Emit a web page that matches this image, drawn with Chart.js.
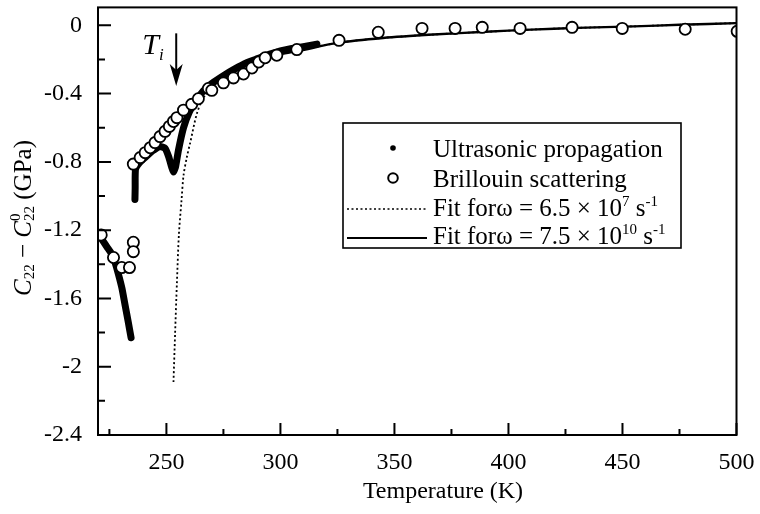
<!DOCTYPE html>
<html>
<head>
<meta charset="utf-8">
<script src="https://cdn.jsdelivr.net/npm/chart.js@4.4.0/dist/chart.umd.min.js"></script>
<style>
  html, body { margin: 0; padding: 0; background: #fff; }
  #chart { display: block; }
</style>
</head>
<body>
<canvas id="chart" width="760" height="514"></canvas>
<script>
// axis ticks
const xTicks = [250, 300, 350, 400, 450, 500];
const xMinor = [225, 275, 325, 375, 425, 475];
const yTicks = [0, -0.4, -0.8, -1.2, -1.6, -2, -2.4];
const yTickLabels = ['0', '-0.4', '-0.8', '-1.2', '-1.6', '-2', '-2.4'];
const yMinor = [-0.2, -0.6, -1.0, -1.4, -1.8, -2.2];

// ultrasonic propagation (dense points, drawn as a thick trace), null = gap
const usT = [220.5, 222.0, 224.0, 226.0, 227.5, 229.0, 230.5, 231.9, 233.3, 234.5,
  235.5,
  236.2, 236.3, 236.3, 236.5, 238.5, 241.0, 244.0, 247.2, 249.4, 251.0, 252.3, 253.1,
  254.0, 255.3, 257.5, 260.0, 262.6, 266.1, 270.0, 275.0, 280.0, 285.0, 290.0, 295.0,
  300.0, 305.0, 310.0, 316.0];
const usC = [-1.23, -1.26, -1.30, -1.34, -1.39, -1.46, -1.54, -1.64, -1.74, -1.83,
  null,
  -1.02, -0.95, -0.89, -0.84, -0.80, -0.77, -0.735, -0.71, -0.72, -0.77, -0.83, -0.86,
  -0.83, -0.73, -0.60, -0.51, -0.45, -0.385, -0.34, -0.295, -0.255, -0.22, -0.195, -0.17,
  -0.15, -0.135, -0.125, -0.11];

// Brillouin scattering
const brT = [221.4, 226.8, 230.4, 233.8, 235.5, 235.5,
  235.5, 238.5, 240.7, 242.9, 245.0, 247.2, 249.4, 251.3, 253.1, 254.6, 257.5, 261.1,
  264.0, 268.4, 269.9, 275.0, 279.4, 283.8, 287.5, 290.5, 293.3, 298.4, 307.2,
  325.7, 342.9, 362.1, 376.6, 388.5, 405.1, 427.9, 449.9, 477.5, 500.3];
const brC = [-1.228, -1.36, -1.419, -1.419, -1.271, -1.326,
  -0.813, -0.775, -0.746, -0.717, -0.687, -0.652, -0.621, -0.592, -0.563, -0.541, -0.497, -0.463,
  -0.43, -0.37, -0.381, -0.337, -0.308, -0.285, -0.25, -0.215, -0.19, -0.175, -0.142,
  -0.088, -0.041, -0.018, -0.018, -0.012, -0.018, -0.012, -0.018, -0.023, -0.035];

// fit, omega = 6.5e7 s^-1 (dotted)
const fitLoT = [253.1, 253.8, 254.6, 255.5, 256.6, 257.5, 259.0, 260.4, 263.3, 266.0,
  270, 275, 280, 290, 300, 308, 325, 345, 367, 390, 410, 430, 455, 475, 500];
const fitLoC = [-2.09, -1.81, -1.51, -1.22, -1.03, -0.88, -0.77, -0.69, -0.52, -0.43,
  -0.36, -0.305, -0.265, -0.205, -0.168, -0.148, -0.103, -0.074, -0.054, -0.038, -0.025,
  -0.015, -0.006, 0.003, 0.013];

// fit, omega = 7.5e10 s^-1 (solid)
const fitHiT = [235.5, 240, 245, 250, 255, 260, 265, 270, 275, 280, 290, 300, 308,
  325, 345, 367, 390, 410, 430, 455, 475, 500];
const fitHiC = [-0.82, -0.755, -0.685, -0.61, -0.535, -0.47, -0.41, -0.355, -0.31, -0.27,
  -0.21, -0.17, -0.15, -0.103, -0.074, -0.054, -0.038, -0.025, -0.015, -0.006, 0.003, 0.013];

const SERIF = "'Liberation Serif', 'Times New Roman', serif";
const toXY = (xs, ys) => xs.map((x, i) => ({ x: x, y: ys[i] }));

// draws a run of text pieces: {t, size, italic, dy, dx, stackUnder}
function drawPieces(ctx, pieces, x, y) {
    let cx = x;
    pieces.forEach(p => {
        ctx.font = (p.italic ? 'italic ' : '') + p.size + 'px ' + SERIF;
        if (p.stackUnder) {
            cx -= p.stackUnder;
        }
        ctx.fillText(p.t, cx, y + (p.dy || 0));
        cx += ctx.measureText(p.t).width + (p.dx || 0);
    });
    return cx - x;
}

function piecesWidth(ctx, pieces) {
    let w = 0;
    pieces.forEach(p => {
        ctx.font = (p.italic ? 'italic ' : '') + p.size + 'px ' + SERIF;
        if (p.stackUnder) w -= p.stackUnder;
        w += ctx.measureText(p.t).width + (p.dx || 0);
    });
    return w;
}

// keep chart area fixed: no extra room for overflowing tick labels
function noPadding(s) {
    s.paddingTop = 0;
    s.paddingBottom = 0;
    s.paddingLeft = 0;
    s.paddingRight = 0;
}

const decorPlugin = {
    id: 'decor',
    afterDraw(chart) {
        const { ctx, chartArea: a, scales: { x, y } } = chart;
        ctx.save();
        ctx.fillStyle = '#000';
        ctx.strokeStyle = '#000';

        // frame
        ctx.lineWidth = 2;
        ctx.strokeRect(a.left, a.top, a.right - a.left, a.bottom - a.top);

        // inward tick marks
        ctx.beginPath();
        xTicks.forEach(v => { const p = x.getPixelForValue(v); ctx.moveTo(p, a.bottom); ctx.lineTo(p, a.bottom - 12); });
        xMinor.forEach(v => { const p = x.getPixelForValue(v); ctx.moveTo(p, a.bottom); ctx.lineTo(p, a.bottom - 6); });
        yTicks.forEach(v => { const p = y.getPixelForValue(v); ctx.moveTo(a.left, p); ctx.lineTo(a.left + 13, p); });
        yMinor.forEach(v => { const p = y.getPixelForValue(v); ctx.moveTo(a.left, p); ctx.lineTo(a.left + 7, p); });
        ctx.stroke();

        // x axis title
        ctx.font = '24px ' + SERIF;
        ctx.textAlign = 'center';
        ctx.textBaseline = 'alphabetic';
        ctx.fillText('Temperature (K)', 443, 498);

        // y axis title, rotated
        const yTitle = [
            { t: 'C', size: 25, italic: true },
            { t: '22', size: 15, dy: 3 },
            { t: ' \u2212 ', size: 25 },
            { t: 'C', size: 25, italic: true },
            { t: '0', size: 15, dy: -11, dx: 0 },
            { t: '22', size: 15, dy: 3, stackUnder: 7.5 },
            { t: ' (GPa)', size: 25 }
        ];
        ctx.textAlign = 'left';
        ctx.save();
        ctx.translate(31, 218);
        ctx.rotate(-Math.PI / 2);
        const tw = piecesWidth(ctx, yTitle);
        drawPieces(ctx, yTitle, -tw / 2, 0);
        ctx.restore();

        // T_i marker with arrow
        const ax = x.getPixelForValue(254.3);
        const ay0 = y.getPixelForValue(-0.047);
        const ay1 = y.getPixelForValue(-0.356);
        ctx.lineWidth = 2;
        ctx.beginPath();
        ctx.moveTo(ax, ay0);
        ctx.lineTo(ax, ay1 - 14);
        ctx.stroke();
        ctx.beginPath();
        ctx.moveTo(ax - 6.5, ay1 - 22);
        ctx.lineTo(ax, ay1);
        ctx.lineTo(ax + 6.5, ay1 - 22);
        ctx.lineTo(ax, ay1 - 16);
        ctx.closePath();
        ctx.fill();
        drawPieces(ctx, [
            { t: 'T', size: 30, italic: true },
            { t: 'i', size: 17, italic: true, dy: 6 }
        ], ax - 34, ay0 + 21);

        // legend
        const ds = chart.data.datasets;
        ctx.fillStyle = '#fff';
        ctx.fillRect(343, 123, 338, 125);
        ctx.lineWidth = 1.6;
        ctx.strokeRect(343, 123, 338, 125);
        ctx.fillStyle = '#000';
        const tx = 433;
        // ultrasonic dot
        ctx.beginPath();
        ctx.arc(393, 148, 2.8, 0, Math.PI * 2);
        ctx.fill();
        drawPieces(ctx, [{ t: ds[0].label, size: 25 }], tx, 156.5);
        // brillouin circle
        ctx.beginPath();
        ctx.lineWidth = 2;
        ctx.arc(393, 178, 4.8, 0, Math.PI * 2);
        ctx.stroke();
        drawPieces(ctx, [{ t: ds[3].label, size: 25 }], tx, 186.5);
        // dotted fit sample
        ctx.save();
        ctx.lineWidth = 1.6;
        ctx.setLineDash(ds[1].borderDash);
        ctx.beginPath();
        ctx.moveTo(347, 209);
        ctx.lineTo(427, 209);
        ctx.stroke();
        ctx.restore();
        drawPieces(ctx, [
            { t: 'Fit for\u03c9 = 6.5 \u00d7 10', size: 25 },
            { t: '7', size: 15, dy: -10 },
            { t: ' s', size: 25 },
            { t: '-1', size: 15, dy: -10 }
        ], tx, 216);
        // solid fit sample
        ctx.lineWidth = 2;
        ctx.beginPath();
        ctx.moveTo(347, 238);
        ctx.lineTo(427, 238);
        ctx.stroke();
        drawPieces(ctx, [
            { t: 'Fit for\u03c9 = 7.5 \u00d7 10', size: 25 },
            { t: '10', size: 15, dy: -10 },
            { t: ' s', size: 25 },
            { t: '-1', size: 15, dy: -10 }
        ], tx, 244);

        ctx.restore();
    }
};

document.addEventListener('DOMContentLoaded', () => {
    const ctx = document.getElementById('chart').getContext('2d');
    window.chart = new Chart(ctx, {
        type: 'scatter',
        data: {
            datasets: [
                {
                    label: 'Ultrasonic propagation',
                    data: toXY(usT, usC),
                    showLine: true,
                    spanGaps: false,
                    borderColor: '#000',
                    borderWidth: 7,
                    borderCapStyle: 'round',
                    borderJoinStyle: 'round',
                    tension: 0.15,
                    pointRadius: 0,
                    order: 4
                },
                {
                    label: 'Fit for\u03c9 = 6.5 \u00d7 10^7 s^-1',
                    data: toXY(fitLoT, fitLoC),
                    showLine: true,
                    borderColor: '#000',
                    borderWidth: 1.8,
                    borderDash: [2, 2.5],
                    tension: 0.3,
                    pointRadius: 0,
                    order: 3
                },
                {
                    label: 'Fit for\u03c9 = 7.5 \u00d7 10^10 s^-1',
                    data: toXY(fitHiT, fitHiC),
                    showLine: true,
                    borderColor: '#000',
                    borderWidth: 2.4,
                    tension: 0.3,
                    pointRadius: 0,
                    order: 2
                },
                {
                    label: 'Brillouin scattering',
                    data: toXY(brT, brC),
                    showLine: false,
                    pointStyle: 'circle',
                    pointRadius: 5.6,
                    pointBorderWidth: 1.8,
                    pointBorderColor: '#000',
                    pointBackgroundColor: '#fff',
                    order: 1
                }
            ]
        },
        options: {
            responsive: false,
            animation: false,
            events: [],
            layout: { padding: { top: 6, right: 23.5, left: 0, bottom: 0 } },
            plugins: {
                legend: { display: false },
                tooltip: { enabled: false }
            },
            scales: {
                x: {
                    type: 'linear',
                    min: 220,
                    max: 500,
                    afterBuildTicks: s => { s.ticks = xTicks.map(v => ({ value: v })); },
                    afterFit: s => { s.height = 79; noPadding(s); },
                    grid: { display: false, drawTicks: false },
                    border: { display: false },
                    ticks: {
                        color: '#000',
                        font: { family: SERIF, size: 24 },
                        padding: 13,
                        maxRotation: 0,
                        autoSkip: false
                    }
                },
                y: {
                    type: 'linear',
                    min: -2.4,
                    max: 0.105,
                    afterBuildTicks: s => { s.ticks = yTicks.map(v => ({ value: v })); },
                    afterFit: s => { s.width = 98; noPadding(s); },
                    grid: { display: false, drawTicks: false },
                    border: { display: false },
                    ticks: {
                        color: '#000',
                        font: { family: SERIF, size: 24 },
                        padding: 16,
                        autoSkip: false,
                        callback: (v, i) => yTickLabels[i]
                    }
                }
            }
        },
        plugins: [decorPlugin]
    });
});
</script>
</body>
</html>
